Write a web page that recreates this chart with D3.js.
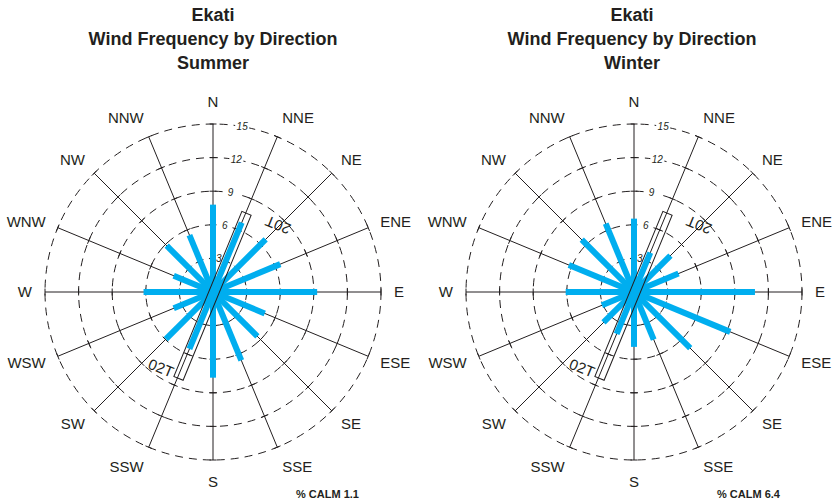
<!DOCTYPE html>
<html><head><meta charset="utf-8">
<script src="https://cdn.jsdelivr.net/npm/d3@7"></script>
<style>
html,body{margin:0;padding:0;background:#fff;}
svg{display:block;font-family:"Liberation Sans",Arial,Helvetica,sans-serif;}
</style></head>
<body>
<svg id="chart" width="832" height="504"></svg>
<script>
// ---- data ----
const directions = ["N","NNE","NE","ENE","E","ESE","SE","SSE","S","SSW","SW","WSW","W","WNW","NW","NNW"];
const summerValues = [7.8, 6.7, 6.65, 6.5, 9.3, 5.0, 5.6, 6.6, 7.65, 5.5, 5.95, 3.8, 6.2, 3.8, 5.85, 5.5];
const winterValues = [6.55, 3.8, 4.6, 4.3, 10.8, 9.3, 7.1, 4.6, 4.9, 4.05, 3.85, 3.1, 6.1, 6.3, 6.6, 6.6];
const ringTicks = [3, 6, 9, 12, 15];
const seasons = ["Summer", "Winter"];
const calmValues = [1.1, 6.4];
const titleLines = ["Ekati", "Wind Frequency by Direction"];
const runwayLabels = ["20T", "02T"];
const runwayHeading = 22.4; // degrees true

const svg = d3.select("#chart");
const rScale = d3.scaleLinear().domain([0, 15]).range([0, 168]);
const aScale = d3.scaleLinear().domain([0, directions.length]).range([0, 360]);
const rad = d => d * Math.PI / 180;
const pt = (r, deg) => [r * Math.sin(rad(deg)), -r * Math.cos(rad(deg))];

function drawRose(cx, cy, titleX, season, values, calm) {
  const g = svg.append("g").attr("transform", `translate(${cx},${cy})`);

  // title
  const lines = titleLines.concat([season]);
  svg.append("g").selectAll("text").data(lines).join("text")
    .attr("x", titleX).attr("y", (d, i) => 20.5 + i * 24)
    .attr("text-anchor", "middle").attr("font-weight", "bold")
    .attr("font-size", 18).attr("fill", "#231f20").text(d => d);

  // dashed rings
  g.append("g").selectAll("circle").data(ringTicks).join("circle")
    .attr("r", d => rScale(d)).attr("fill", "none")
    .attr("stroke", "#231f20").attr("stroke-width", 1)
    .attr("stroke-dasharray", "8,6");

  // spokes
  const spokes = g.append("g");
  directions.forEach((d, i) => {
    const a = aScale(i);
    const [x2, y2] = pt(rScale(15), a);
    spokes.append("line").attr("x1", 0).attr("y1", 0).attr("x2", x2).attr("y2", y2)
      .attr("stroke", "#231f20").attr("stroke-width", 1);
    ringTicks.forEach(t => {
      const [px, py] = pt(rScale(t), a);
      const [ox, oy] = pt(3.5, a + 90);
      spokes.append("line")
        .attr("x1", px - ox).attr("y1", py - oy)
        .attr("x2", px + ox).attr("y2", py + oy)
        .attr("stroke", "#231f20").attr("stroke-width", 1);
    });
  });

  // ring labels
  const rl = g.append("g");
  ringTicks.forEach(t => {
    const [px, py] = pt(rScale(t), 10);
    rl.append("rect").attr("x", px - 7).attr("y", py - 6).attr("width", 14).attr("height", 12).attr("fill", "#fff");
    rl.append("text").attr("x", px).attr("y", py).attr("dy", "0.35em")
      .attr("text-anchor", "middle").attr("font-style", "italic")
      .attr("font-size", 10).attr("fill", "#231f20").text(t);
  });

  // bars
  g.append("g").selectAll("line").data(values).join("line")
    .attr("x1", 0).attr("y1", 0)
    .attr("x2", (v, i) => pt(rScale(v), aScale(i))[0])
    .attr("y2", (v, i) => pt(rScale(v), aScale(i))[1])
    .attr("stroke", "#00aeef").attr("stroke-width", 6).attr("stroke-linecap", "butt");

  // runway
  const rw = g.append("g").attr("transform", `rotate(${runwayHeading})`);
  rw.append("rect").attr("x", -4).attr("y", -85.5).attr("width", 10).attr("height", 178.5)
    .attr("fill", "none").attr("stroke", "#231f20").attr("stroke-width", 1);
  g.append("text").attr("transform", `translate(65,-67) rotate(${runwayHeading + 180})`)
    .attr("text-anchor", "middle").attr("dy", "0.35em").attr("font-size", 15)
    .attr("fill", "#231f20").text(runwayLabels[0]);
  g.append("text").attr("transform", `translate(-52,76) rotate(${runwayHeading})`)
    .attr("text-anchor", "middle").attr("dy", "0.35em").attr("font-size", 15)
    .attr("fill", "#231f20").text(runwayLabels[1]);

  // direction labels
  g.append("g").selectAll("text").data(directions).join("text")
    .attr("x", (d, i) => 181 * Math.sin(rad(aScale(i))))
    .attr("y", (d, i) => { const c = Math.cos(rad(aScale(i))); return -(183 * c + 7 * c * c * c); })
    .attr("dy", "0.35em")
    .attr("text-anchor", (d, i) => { const s = Math.sin(rad(aScale(i))); return Math.abs(s) < 0.1 ? "middle" : (s > 0 ? "start" : "end"); })
    .attr("font-size", 15).attr("fill", "#231f20").text(d => d);

  // calm
  g.append("text").attr("x", 83).attr("y", 206).attr("font-size", 11)
    .attr("font-weight", "bold").attr("fill", "#231f20").text("% CALM " + calm);
}

drawRose(213, 292, 213, seasons[0], summerValues, calmValues[0]);
drawRose(634, 292, 632, seasons[1], winterValues, calmValues[1]);
</script>
</body></html>
